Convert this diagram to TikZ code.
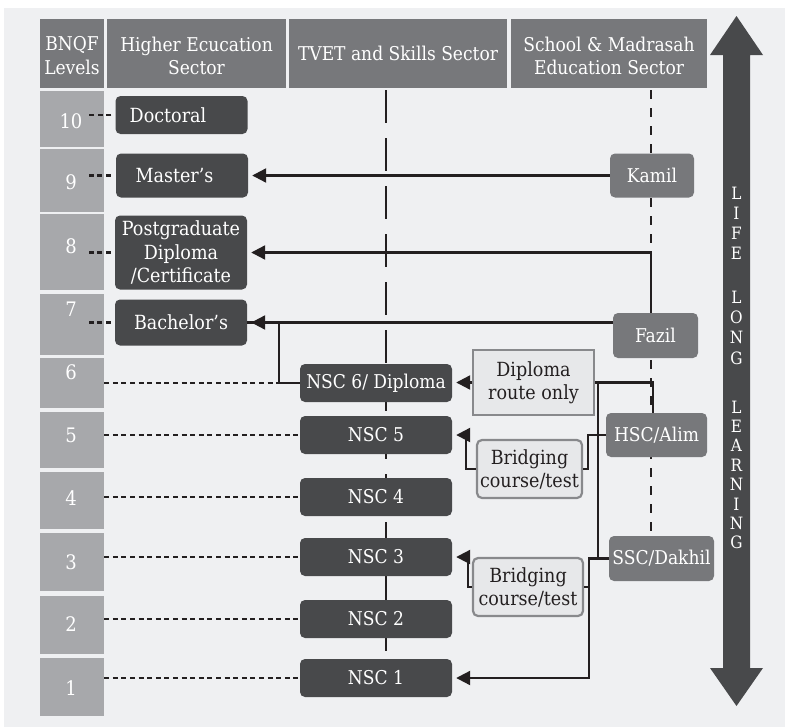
\documentclass[tikz,border=0pt]{standalone}
\usepackage{fontspec}
\setmainfont{DejaVu Serif Condensed}
\usetikzlibrary{arrows.meta,backgrounds}
\definecolor{panel}{HTML}{EFF0F2}
\definecolor{headgray}{HTML}{77787B}
\definecolor{lvlgray}{HTML}{A7A8AB}
\definecolor{darkbox}{HTML}{48494B}
\definecolor{paleface}{HTML}{E7E8EA}
\definecolor{paleedge}{HTML}{88898C}
\definecolor{ink}{HTML}{231F20}
\tikzstyle{head}=[rectangle,fill=headgray,text=white,minimum height=69pt,inner sep=0pt,align=center,font=\fontsize{19}{23.5}\selectfont]
\tikzstyle{headtext}=[text=white,inner sep=0pt,align=center,yshift=-2.5pt,font=\fontsize{19}{23.5}\selectfont]
\tikzstyle{lvl}=[rectangle,fill=lvlgray,minimum width=64pt,inner sep=0pt]
\tikzstyle{lvlnum}=[text=white,inner sep=0pt,font=\fontsize{20}{22}\selectfont]
\tikzstyle{hebox}=[rectangle,rounded corners=5pt,fill=darkbox,text=white,minimum width=132pt,inner sep=0pt,align=center,font=\fontsize{19.5}{23.5}\selectfont]
\tikzstyle{nscbox}=[rectangle,rounded corners=5pt,fill=darkbox,text=white,minimum width=152pt,minimum height=38pt,inner sep=0pt,font=\fontsize{19}{22}\selectfont]
\tikzstyle{schbox}=[rectangle,rounded corners=5pt,fill=headgray,text=white,minimum height=44pt,inner sep=0pt,font=\fontsize{19}{22}\selectfont]
\tikzstyle{route}=[rectangle,fill=paleface,draw=paleedge,line width=2.2pt,inner sep=0pt,align=center,text=ink,font=\fontsize{19.5}{23}\selectfont]
\tikzstyle{arr}=[ink,line width=2.2pt,-{Triangle[length=14pt,width=14pt]},shorten >=4pt]
\tikzstyle{ln}=[ink,line width=2.2pt]
\tikzstyle{lvlline}=[ink,line width=2.4pt,dash pattern=on 5pt off 3.6pt]
\tikzstyle{lifetext}=[text=white,align=center,inner sep=0pt]

\begin{document}
\begin{tikzpicture}[x=1pt,y=-1pt]
\useasboundingbox (0,0) rectangle (785,728);
\node[head,minimum width=64pt,label={[headtext,yshift=0.5pt]center:{BNQF\\Levels}}] (hbnqf) at (72,53.5) {};
\node[head,minimum width=179pt,label={[headtext]center:{Higher Ecucation\\Sector}}] (hhigh) at (196.5,53.5) {};
\node[head,minimum width=218pt] (htvet) at (398,53.5) {TVET and Skills Sector};
\node[head,minimum width=196pt,label={[headtext]center:{School \& Madrasah\\Education Sector}}] (hschool) at (609,53.5) {};

\node[lvl,minimum height=56pt] (l10) at (72,119) {};\node[lvlnum] at (71,121) {10};
\node[lvl,minimum height=63pt] (l9) at (72,180.5) {};\node[lvlnum] at (71,182) {9};
\node[lvl,minimum height=76pt] (l8) at (72,252) {};\node[lvlnum] at (71,246) {8};
\node[lvl,minimum height=61pt] (l7) at (72,324.5) {};\node[lvlnum] at (71,309) {7};
\node[lvl,minimum height=50pt] (l6) at (72,383) {};\node[lvlnum] at (71,372) {6};
\node[lvl,minimum height=56pt] (l5) at (72,440) {};\node[lvlnum] at (71,435) {5};
\node[lvl,minimum height=57pt] (l4) at (72,500.5) {};\node[lvlnum] at (71,498) {4};
\node[lvl,minimum height=58pt] (l3) at (72,562) {};\node[lvlnum] at (71,562) {3};
\node[lvl,minimum height=58pt] (l2) at (72,625) {};\node[lvlnum] at (71,624) {2};
\node[lvl,minimum height=58pt] (l1) at (72,687) {};\node[lvlnum] at (71,688) {1};

\node[hebox,minimum height=38pt] (doc) at (181.5,115) {Doctoral\hspace*{27pt}};
\node[hebox,minimum height=44pt] (mas) at (182,175.5) {Master’s\hspace*{15pt}};
\node[hebox,minimum height=74pt] (pgd) at (181,252.5) {Postgraduate\\Diploma\\/Certificate};
\node[hebox,minimum height=46pt] (bac) at (181,322.5) {Bachelor’s};

\node[nscbox] (n6) at (376,383) {NSC 6/ Diploma};
\node[nscbox] (n5) at (376,435) {NSC 5};
\node[nscbox] (n4) at (376,497) {NSC 4};
\node[nscbox] (n3) at (376,557) {NSC 3};
\node[nscbox] (n2) at (376,619) {NSC 2};
\node[nscbox] (n1) at (376,678) {NSC 1};

\node[schbox,minimum width=84pt] (kam) at (652,175.5) {Kamil};
\node[schbox,minimum width=85pt,minimum height=45pt] (faz) at (655.5,335.5) {Fazil};
\node[schbox,minimum width=101pt] (hsc) at (656.5,435) {HSC/Alim};
\node[schbox,minimum width=105pt,minimum height=45pt] (ssc) at (661.5,558.5) {SSC/Dakhil};

\node[route,minimum width=121pt,minimum height=65pt] (dip) at (533.5,382.5) {Diploma\\route only};
\node[route,rounded corners=5pt,minimum width=105pt,minimum height=58pt] (br1) at (529.5,469) {Bridging\\course/test};
\node[route,rounded corners=5pt,minimum width=110pt,minimum height=58pt] (br2) at (528,587) {Bridging\\course/test};

\fill[darkbox] (723,55) -- (710,55) -- (736.5,16) -- (763,55) -- (750,55) -- (750,668) -- (763,668) -- (736.5,706) -- (710,668) -- (723,668) -- cycle;
\node[lifetext,font=\fontsize{17}{20}\selectfont] at (736.5,223) {L\\I\\F\\E};
\node[lifetext,font=\fontsize{17}{20.3}\selectfont] at (736.5,327.5) {L\\O\\N\\G};
\node[lifetext,font=\fontsize{17}{19.4}\selectfont] at (736.5,475) {L\\E\\A\\R\\N\\I\\N\\G};

\begin{scope}[on background layer]
\fill[white] (0,0) rectangle (785,728);
\fill[panel] (4,8) rectangle (785,727);
\draw[ink,line width=2.6pt,dash pattern=on 33pt off 15pt] (386,90) -- (386,660);
\draw[ink,line width=2pt,dash pattern=on 9pt off 9pt] (kam.north |- hschool.south) ++(-1,2) -- (651,536);
\end{scope}

\draw[lvlline] ([xshift=-4pt]doc.west) -- ++(-24,0);
\draw[lvlline] ([xshift=-5pt]mas.west) -- ++(-24,0);
\draw[lvlline] ([xshift=-4pt]pgd.west) -- ++(-24,0);
\draw[lvlline] ([xshift=-4pt]bac.west) -- ++(-24,0);
\coordinate (j6) at (279,383);
\draw[lvlline] (l6.east |- j6) -- (j6);
\draw[lvlline] (l5.east |- n5.west) -- (n5.west);
\draw[lvlline] (l4.east |- n4.west) -- (n4.west);
\draw[lvlline] (l3.east |- n3.west) -- (n3.west);
\draw[lvlline] (l2.east |- n2.west) -- (n2.west);
\draw[lvlline] (l1.east |- n1.west) -- (n1.west);

\draw[arr] (kam.west) -- (mas.east);
\draw[arr] ([xshift=-4.5pt]faz.north) |- (pgd.east);
\draw[arr] (faz.west |- bac.east) -- (bac.east);
\draw[ln] (n6.west) -- (j6) |- (bac.east);
\draw[arr] (dip.west) -- (dip.west -| n6.east);
\draw[ln] ([xshift=-3.5pt]hsc.north) |- (dip.east);
\draw[ln] (ssc.west) -| ([xshift=3pt]dip.east);
\draw[ln] (hsc.west) -- ++(-18,0) |- (br1.east);
\draw[arr] (br1.west) -- ++(-10,0) |- (n5.east);
\coordinate (sj) at ([xshift=-20pt]ssc.west);
\draw[arr] (ssc.west) -- (sj) |- (n1.east);
\draw[ln] (br2.east) -- (br2.east -| sj);
\draw[arr] (br2.west) -- ++(-4,0) |- (n3.east);
\end{tikzpicture}
\end{document}
